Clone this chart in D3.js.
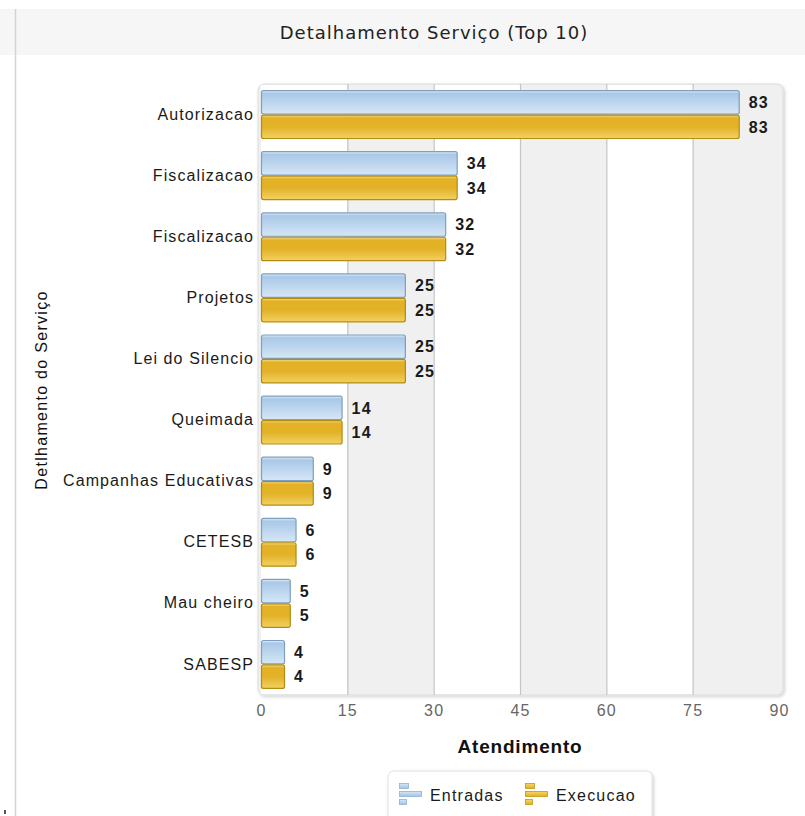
<!DOCTYPE html>
<html>
<head>
<meta charset="utf-8">
<script src="https://cdnjs.cloudflare.com/ajax/libs/d3/7.8.5/d3.min.js"></script>
<style>
  html, body { margin: 0; padding: 0; background: #fff; }
  svg { display: block; }
</style>
</head>
<body>
<svg id="chart" width="805" height="816"></svg>
<script>
const categories = ["Autorizacao", "Fiscalizacao", "Fiscalizacao", "Projetos", "Lei do Silencio", "Queimada", "Campanhas Educativas", "CETESB", "Mau cheiro", "SABESP"];
const entradas = [83, 34, 32, 25, 25, 14, 9, 6, 5, 4];
const execucao = [83, 34, 32, 25, 25, 14, 9, 6, 5, 4];
const seriesNames = ["Entradas", "Execucao"];
const xTicks = [0, 15, 30, 45, 60, 75, 90];
const chartTitle = "Detalhamento Serviço (Top 10)";
const xTitle = "Atendimento";
const yTitle = "Detlhamento do Serviço";

const svg = d3.select("#chart");
const W = 805, H = 816;
const plot = { left: 261, right: 779, top: 84, bottom: 695 };

const defs = svg.append("defs");
function grad(id, stops) {
  const g = defs.append("linearGradient").attr("id", id).attr("x1", 0).attr("y1", 0).attr("x2", 0).attr("y2", 1);
  stops.forEach(s => g.append("stop").attr("offset", s[0]).attr("stop-color", s[1]));
}
grad("gBlue", [[0, "#e3eef8"], [0.12, "#a9c8e6"], [0.5, "#bcd5ee"], [1, "#d6e7f6"]]);
grad("gGold", [[0, "#f6de8e"], [0.12, "#e3b125"], [0.5, "#e2b228"], [1, "#f2d161"]]);
grad("gIconBlue", [[0, "#d6e7f6"], [1, "#9fc2e4"]]);
grad("gIconGold", [[0, "#f6d770"], [1, "#e2ad18"]]);
const shadow = defs.append("filter").attr("id", "shadow").attr("x", "-5%").attr("y", "-5%").attr("width", "110%").attr("height", "110%");
shadow.append("feDropShadow").attr("dx", 1.5).attr("dy", 1.5).attr("stdDeviation", 1.5).attr("flood-color", "#000").attr("flood-opacity", 0.18);

// page frame
svg.append("rect").attr("x", 0).attr("y", 9).attr("width", W).attr("height", 46).attr("fill", "#f6f6f6");
svg.append("line").attr("x1", 15.5).attr("x2", 15.5).attr("y1", 9).attr("y2", H).attr("stroke", "#d4d4d4").attr("stroke-width", 1.5);
svg.append("rect").attr("x", 4).attr("y", 810).attr("width", 2).attr("height", 4).attr("fill", "#555");

svg.append("text").attr("x", 434).attr("y", 39).attr("text-anchor", "middle")
  .style("font-family", "'DejaVu Sans', sans-serif").style("font-size", "18px").style("letter-spacing", "1px")
  .attr("fill", "#222").text(chartTitle);

// scales
const x = d3.scaleLinear().domain([0, 90]).range([plot.left, plot.right]);
const y = d3.scaleBand().domain(d3.range(categories.length)).range([plot.top, plot.bottom]).paddingInner(0.2).paddingOuter(0.1);
const ys = d3.scaleBand().domain(seriesNames).range([0, y.bandwidth()]);

// panel
svg.append("rect").attr("x", plot.left - 3).attr("y", plot.top).attr("width", plot.right - plot.left + 7)
  .attr("height", plot.bottom - plot.top).attr("rx", 6).attr("fill", "#f0f0f0").attr("stroke", "#dcdcdc")
  .attr("filter", "url(#shadow)");
const bandPairs = [];
for (let i = 0; i < xTicks.length - 1; i += 2) bandPairs.push([xTicks[i], xTicks[i + 1]]);
svg.append("g").selectAll("rect").data(bandPairs).join("rect")
  .attr("x", d => x(d[0])).attr("width", d => x(d[1]) - x(d[0]))
  .attr("y", plot.top + 1).attr("height", plot.bottom - plot.top - 2).attr("fill", "#ffffff");

// gridlines
const grid = svg.append("g").attr("transform", `translate(0,${plot.bottom})`)
  .call(d3.axisBottom(x).tickValues(xTicks.slice(1, -1)).tickSize(-(plot.bottom - plot.top)).tickFormat(""));
grid.select(".domain").remove();
grid.selectAll("line").attr("stroke", "#c4c4c4").attr("stroke-width", 1.2);

// x axis
const xAxis = svg.append("g").attr("transform", `translate(0,${plot.bottom + 10})`)
  .call(d3.axisBottom(x).tickValues(xTicks).tickSize(0).tickPadding(0));
xAxis.select(".domain").remove();
xAxis.selectAll("text").attr("fill", "#666").attr("dy", "0.71em")
  .style("font-family", "'Liberation Sans', Arial, sans-serif").style("font-size", "16px").style("letter-spacing", "1.2px");

svg.append("text").attr("x", 520).attr("y", 753).attr("text-anchor", "middle")
  .style("font-family", "'Liberation Sans', Arial, sans-serif").style("font-size", "19px").style("font-weight", "bold")
  .style("letter-spacing", "0.8px").attr("fill", "#111").text(xTitle);

// y axis labels
const yAxis = svg.append("g").attr("transform", `translate(${plot.left - 7},0)`)
  .call(d3.axisLeft(y).tickSize(0).tickPadding(0).tickFormat(i => categories[i]));
yAxis.select(".domain").remove();
yAxis.selectAll("text").attr("fill", "#1a1a1a")
  .style("font-family", "'Liberation Sans', Arial, sans-serif").style("font-size", "16px").style("letter-spacing", "1.1px");

svg.append("text").attr("transform", "translate(47,390) rotate(-90)").attr("text-anchor", "middle")
  .style("font-family", "'Liberation Sans', Arial, sans-serif").style("font-size", "16px").style("letter-spacing", "1.3px")
  .attr("fill", "#111").text(yTitle);

// bars
const series = [
  { name: seriesNames[0], values: entradas, fill: "url(#gBlue)", stroke: "#7f9fc0" },
  { name: seriesNames[1], values: execucao, fill: "url(#gGold)", stroke: "#b38d12" }
];
series.forEach(s => {
  const g = svg.append("g");
  g.selectAll("rect").data(s.values).join("rect")
    .attr("x", x(0) + 0.5).attr("y", (d, i) => y(i) + ys(s.name) + 0.5)
    .attr("width", d => x(d) - x(0)).attr("height", ys.bandwidth() - 1)
    .attr("rx", 2).attr("fill", s.fill).attr("stroke", s.stroke).attr("stroke-width", 1.2);
  g.selectAll("text").data(s.values).join("text")
    .attr("x", d => x(d) + 10).attr("y", (d, i) => y(i) + ys(s.name) + ys.bandwidth() / 2).attr("dy", "0.36em")
    .style("font-family", "'Liberation Sans', Arial, sans-serif").style("font-size", "16px").style("font-weight", "bold")
    .style("letter-spacing", "1.2px").attr("fill", "#1a1a1a").text(d => d);
});

// legend
const lg = svg.append("g");
lg.append("rect").attr("x", 388).attr("y", 771).attr("width", 264).attr("height", 60).attr("rx", 6)
  .attr("fill", "#fff").attr("stroke", "#e0e0e0").attr("filter", "url(#shadow)");
const legendItems = [
  { name: seriesNames[0], x: 399, fill: "url(#gIconBlue)", stroke: "#8fb0d0" },
  { name: seriesNames[1], x: 525, fill: "url(#gIconGold)", stroke: "#c49a10" }
];
legendItems.forEach(it => {
  const ig = lg.append("g").attr("transform", `translate(${it.x},783)`);
  [[0, 9], [8, 22], [16, 7]].forEach(b => {
    ig.append("rect").attr("x", 0.5).attr("y", b[0] + 0.5).attr("width", b[1]).attr("height", 5)
      .attr("fill", it.fill).attr("stroke", it.stroke).attr("stroke-width", 0.8);
  });
  lg.append("text").attr("x", it.x + 31).attr("y", 801)
    .style("font-family", "'Liberation Sans', Arial, sans-serif").style("font-size", "16px").style("letter-spacing", "1.2px")
    .attr("fill", "#1a1a1a").text(it.name);
});
</script>
</body>
</html>
